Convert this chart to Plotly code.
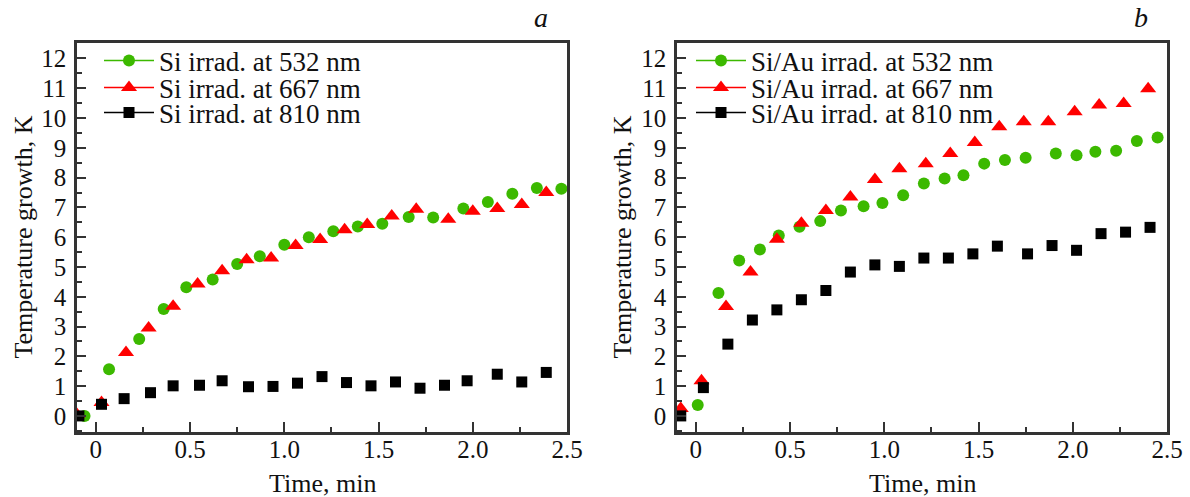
import plotly.graph_objects as go

# ---------------- data ----------------
# Panel a: Si
si532_t = [-0.06, 0.07, 0.23, 0.36, 0.48, 0.62, 0.75, 0.87, 1.00, 1.13, 1.26, 1.39, 1.52, 1.66, 1.79, 1.95, 2.08, 2.21, 2.34, 2.47]
si532_v = [0.00, 1.57, 2.58, 3.59, 4.32, 4.58, 5.10, 5.36, 5.75, 6.00, 6.20, 6.36, 6.45, 6.68, 6.66, 6.96, 7.18, 7.46, 7.65, 7.63]

si667_t = [-0.10, 0.03, 0.16, 0.28, 0.41, 0.54, 0.67, 0.80, 0.93, 1.06, 1.19, 1.32, 1.44, 1.57, 1.70, 1.87, 2.00, 2.13, 2.26, 2.39]
si667_v = [0.05, 0.45, 2.13, 2.95, 3.68, 4.43, 4.87, 5.24, 5.30, 5.72, 5.92, 6.25, 6.43, 6.71, 6.94, 6.60, 6.87, 6.96, 7.10, 7.50]

si810_t = [-0.09, 0.03, 0.15, 0.29, 0.41, 0.55, 0.67, 0.81, 0.94, 1.07, 1.20, 1.33, 1.46, 1.59, 1.72, 1.85, 1.97, 2.13, 2.26, 2.39]
si810_v = [0.00, 0.39, 0.58, 0.78, 1.01, 1.03, 1.18, 0.98, 0.99, 1.10, 1.32, 1.12, 1.01, 1.14, 0.93, 1.03, 1.18, 1.40, 1.14, 1.46]

# Panel b: Si/Au
au532_t = [0.01, 0.12, 0.23, 0.34, 0.44, 0.55, 0.66, 0.77, 0.89, 0.99, 1.10, 1.21, 1.32, 1.42, 1.53, 1.64, 1.75, 1.91, 2.02, 2.12, 2.23, 2.34, 2.45]
au532_v = [0.37, 4.13, 5.22, 5.59, 6.06, 6.35, 6.54, 6.90, 7.04, 7.15, 7.41, 7.80, 7.97, 8.08, 8.47, 8.59, 8.67, 8.81, 8.75, 8.87, 8.90, 9.23, 9.35]

au667_t = [-0.08, 0.03, 0.16, 0.29, 0.43, 0.56, 0.69, 0.82, 0.95, 1.08, 1.22, 1.35, 1.48, 1.61, 1.74, 1.87, 2.01, 2.14, 2.27, 2.40]
au667_v = [0.25, 1.18, 3.67, 4.83, 5.93, 6.47, 6.90, 7.35, 7.94, 8.30, 8.47, 8.81, 9.18, 9.71, 9.88, 9.88, 10.21, 10.44, 10.49, 10.98]

au810_t = [-0.08, 0.04, 0.17, 0.30, 0.43, 0.56, 0.69, 0.82, 0.95, 1.08, 1.21, 1.34, 1.47, 1.60, 1.76, 1.89, 2.02, 2.15, 2.28, 2.41]
au810_v = [0.00, 0.95, 2.41, 3.22, 3.56, 3.90, 4.21, 4.83, 5.07, 5.02, 5.30, 5.30, 5.44, 5.70, 5.44, 5.72, 5.56, 6.12, 6.17, 6.33]

names_a = ["Si irrad. at 532 nm", "Si irrad. at 667 nm", "Si irrad. at 810 nm"]
names_b = ["Si/Au irrad. at 532 nm", "Si/Au irrad. at 667 nm", "Si/Au irrad. at 810 nm"]

x_tickvals = [0, 0.5, 1.0, 1.5, 2.0, 2.5]
x_ticktext = ["0", "0.5", "1.0", "1.5", "2.0", "2.5"]
x_minor = [0.25, 0.75, 1.25, 1.75, 2.25]

# ---------------- styling ----------------
W, H = 1190, 497
FONT = "Liberation Serif"
TXT = "#111111"
GREEN, RED, BLACK = "#3CB900", "#FF0000", "#000000"
AX = "#333333"

styles = [
    (GREEN, "circle", 12),
    (RED, "triangle-up", 14),
    (BLACK, "square", 11),
]

def px2x(p):
    return p / W

def px2y(p):
    return 1 - p / H

fig = go.Figure()

panels = [
    ("x", "y", [(si532_t, si532_v), (si667_t, si667_v), (si810_t, si810_v)], names_a, 99),
    ("x2", "y2", [(au532_t, au532_v), (au667_t, au667_v), (au810_t, au810_v)], names_b, 691),
]
legend_rows = [61, 88, 113]
leg_i = 0
layout_legends = {}
for xa, ya, series, names, legx in panels:
    for (t, v), name, (col, sym, sz), rowy in zip(series, names, styles, legend_rows):
        fig.add_trace(go.Scatter(
            x=t, y=v, mode="markers", xaxis=xa, yaxis=ya,
            marker=dict(color=col, symbol=sym, size=sz, line=dict(width=0)),
            showlegend=False, hoverinfo="x+y", name=name))
        leg_i += 1
        lname = "legend" if leg_i == 1 else f"legend{leg_i}"
        fig.add_trace(go.Scatter(
            x=[None], y=[None], mode="lines+markers", xaxis=xa, yaxis=ya,
            marker=dict(color=col, symbol=sym, size=sz, line=dict(width=0)),
            line=dict(color=col, width=1.5),
            name=name, showlegend=True, legend=lname))
        layout_legends[lname] = dict(
            x=px2x(legx), y=px2y(rowy), xanchor="left", yanchor="middle",
            bgcolor="rgba(0,0,0,0)", borderwidth=0, itemwidth=50,
            font=dict(family=FONT, size=27, color=TXT))

common_x = dict(
    range=[-0.1, 2.5], tickmode="array", tickvals=x_tickvals, ticktext=x_ticktext,
    showline=True, mirror=True, linecolor=AX, linewidth=2.5,
    ticks="inside", ticklen=10, tickwidth=1.5, tickcolor=AX,
    minor=dict(tickmode="array", tickvals=x_minor, ticks="inside", ticklen=5, tickwidth=1.5, tickcolor=AX),
    showgrid=False, zeroline=False,
    tickfont=dict(family=FONT, size=25, color=TXT),
    automargin=False, ticklabelstandoff=-7,
)
common_y = dict(
    range=[-0.54, 12.52], tickmode="linear", tick0=0, dtick=1,
    showline=True, mirror=True, linecolor=AX, linewidth=2.5,
    ticks="inside", ticklen=9, tickwidth=1.5, tickcolor=AX,
    minor=dict(tickmode="linear", tick0=0, dtick=0.5, ticks="inside", ticklen=5, tickwidth=1.5, tickcolor=AX),
    showgrid=False, zeroline=False,
    tickfont=dict(family=FONT, size=25, color=TXT),
    automargin=False, ticklabelstandoff=3,
)

y_dom = [px2y(432), px2y(43)]
fig.update_layout(
    width=W, height=H, margin=dict(l=0, r=0, t=0, b=0),
    paper_bgcolor="white", plot_bgcolor="white",
    font=dict(family=FONT, color=TXT),
    xaxis=dict(domain=[px2x(77), px2x(567)], anchor="y", **common_x),
    yaxis=dict(domain=y_dom, anchor="x", **common_y),
    xaxis2=dict(domain=[px2x(677), px2x(1167)], anchor="y2", **common_x),
    yaxis2=dict(domain=y_dom, anchor="x2", **common_y),
    **layout_legends,
)

ann_font = dict(family=FONT, size=26, color=TXT)
annotations = [
    dict(text="Temperature growth, K", x=px2x(23), y=px2y(237.5), textangle=-90),
    dict(text="Temperature growth, K", x=px2x(622), y=px2y(237.5), textangle=-90),
    dict(text="Time, min", x=px2x(322), y=px2y(483)),
    dict(text="Time, min", x=px2x(922), y=px2y(483)),
]
for a in annotations:
    fig.add_annotation(xref="paper", yref="paper", xanchor="center", yanchor="middle",
                       showarrow=False, font=ann_font, **a)
for lab, xp in (("a", 541), ("b", 1141)):
    fig.add_annotation(text=f"<i>{lab}</i>", xref="paper", yref="paper", x=px2x(xp), y=px2y(17),
                       xanchor="center", yanchor="middle", showarrow=False,
                       font=dict(family=FONT, size=28, color=TXT))

fig.write_html("out.html", config={"displayModeBar": False},
               post_script="document.body.style.margin='0';document.body.style.padding='0';")
